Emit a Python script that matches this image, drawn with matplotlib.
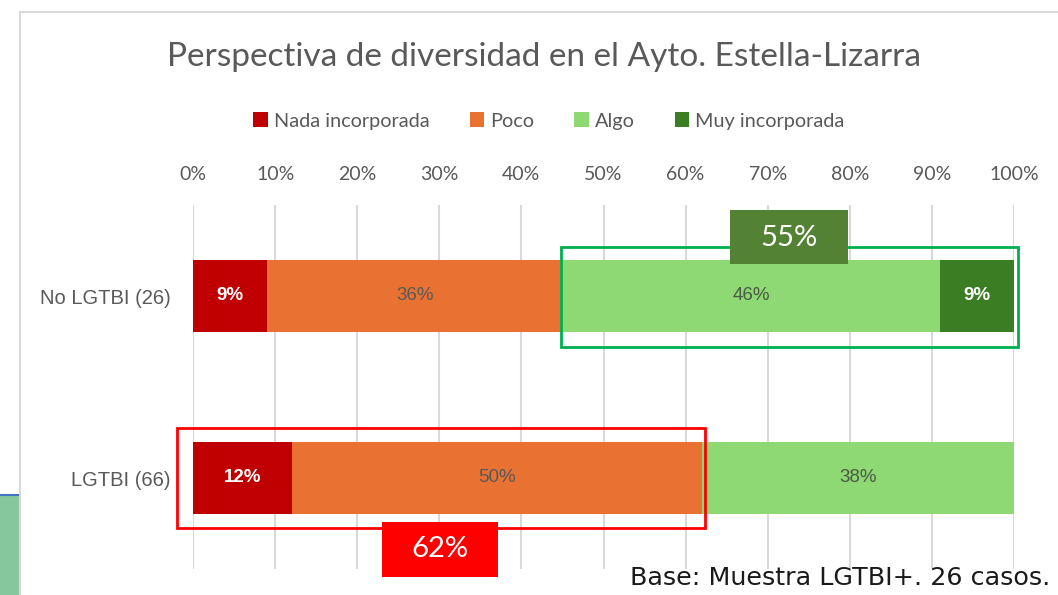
import matplotlib.pyplot as plt
from matplotlib.patches import Rectangle
import numpy as np

groups = ['No LGTBI (26)', 'LGTBI (66)']
levels = ['Nada incorporada', 'Poco', 'Algo', 'Muy incorporada']
nada = [9, 12]
poco = [36, 50]
algo = [46, 38]
muy = [9, 0]
algo_muy_no = 55
nada_poco_lgtbi = 62

colors = ['#C00000', '#E97132', '#8ED973', '#3B7D23']
label_colors = ['white', '#595959', '#4a5a45', 'white']
label_weights = ['bold', 'normal', 'normal', 'bold']

W, H = 1058, 595
fig = plt.figure(figsize=(W / 100, H / 100), dpi=100)

# slide decorations
fig.add_artist(plt.Line2D([20 / W, 1], [1 - 12 / H, 1 - 12 / H], color='#d9d9d9', lw=1.5))
fig.add_artist(plt.Line2D([20 / W, 20 / W], [0, 1 - 12 / H], color='#d9d9d9', lw=1.5))
fig.add_artist(Rectangle((0, 0), 18 / W, 1 - 496 / H, color='#86c79d', transform=fig.transFigure))
fig.add_artist(plt.Line2D([0, 18 / W], [1 - 495 / H, 1 - 495 / H], color='#4472c4', lw=1.5))

ax = fig.add_axes([193 / W, 1 - 569 / H, (1014 - 193) / W, 364 / H])
ax.set_xlim(0, 100)
ax.set_ylim(1.5, -0.5)

y = np.arange(len(groups))
series = [nada, poco, algo, muy]
left = np.zeros(len(groups))
for vals, col, lc, lw_, name in zip(series, colors, label_colors, label_weights, levels):
    vals = np.array(vals, dtype=float)
    ax.barh(y, vals, left=left, height=0.4, color=col, label=name, zorder=2)
    for yi, (l, v) in enumerate(zip(left, vals)):
        if v > 0:
            ax.text(l + v / 2, yi, f'{v:.0f}%', ha='center', va='center', color=lc,
                    fontsize=13.5, fontweight=lw_, family='Liberation Sans', zorder=3)
    left += vals

ax.set_xticks(np.arange(0, 101, 10))
ax.set_xticklabels([f'{t}%' for t in range(0, 101, 10)])
ax.xaxis.tick_top()
ax.tick_params(axis='x', length=0, pad=16, labelsize=14, labelcolor='#595959')
ax.set_yticks(y)
ax.set_yticklabels(groups, family='Liberation Sans', fontsize=14.5, color='#595959')
ax.tick_params(axis='y', length=0, pad=16)
for lab in ax.get_xticklabels():
    lab.set_family('Lato')
ax.grid(axis='x', color='#d9d9d9', lw=1.5, zorder=0)
for s in ax.spines.values():
    s.set_visible(False)

# highlight boxes
ax.add_patch(Rectangle((44.8, -0.27), 100.5 - 44.8, 0.55, fill=False, ec='#00B050', lw=2,
                       clip_on=False, zorder=4))
ax.add_patch(Rectangle((-1.95, 1 - 0.275), 62.4 + 1.95, 0.55, fill=False, ec='#FF0000', lw=2,
                       clip_on=False, zorder=4))
ax.add_patch(Rectangle((65.4, -0.473), 14.4, 0.297, fc='#548235', ec='none', clip_on=False, zorder=5))
ax.text(72.6, -0.32, f'{algo_muy_no}%', ha='center', va='center', color='white', fontsize=21,
        family='Lato', zorder=6)
ax.add_patch(Rectangle((23.0, 1.242), 14.1, 0.302, fc='#FF0000', ec='none', clip_on=False, zorder=5))
ax.text(30.05, 1.39, f'{nada_poco_lgtbi}%', ha='center', va='center', color='white', fontsize=21,
        family='Lato', zorder=6)

fig.text(544 / W, 1 - 57 / H, 'Perspectiva de diversidad en el Ayto. Estella-Lizarra',
         ha='center', va='center', fontsize=24, color='#595959', family='Lato')
fig.legend(loc='center', bbox_to_anchor=(549 / W, 1 - 121 / H), ncol=4, frameon=False,
           prop={'family': 'Lato', 'size': 14.3}, labelcolor='#595959',
           handlelength=0.75, handleheight=0.75, handletextpad=0.3, columnspacing=2.0)
fig.text(1050 / W, 1 - 578 / H, 'Base: Muestra LGTBI+. 26 casos.', ha='right', va='center',
         fontsize=18.3, color='#1a1a1a', family='DejaVu Sans')

fig.savefig('out.png', dpi=100)
